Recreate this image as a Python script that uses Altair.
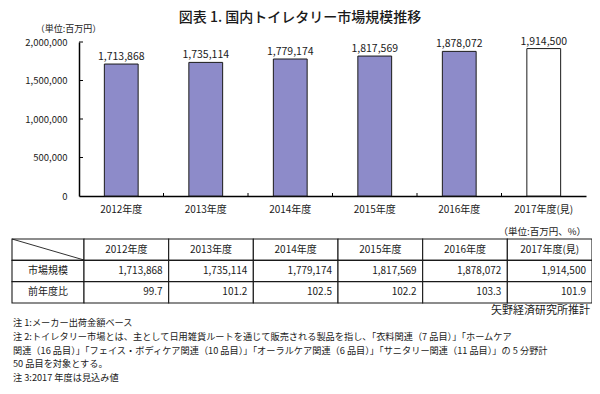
import altair as alt
import pandas as pd

FONT = "Noto Sans CJK JP"

# ---------------- data ----------------
years = ["2012年度", "2013年度", "2014年度", "2015年度", "2016年度", "2017年度(見)"]
market_size = [1713868, 1735114, 1779174, 1817569, 1878072, 1914500]
yoy_ratio = ["99.7", "101.2", "102.5", "102.2", "103.3", "101.9"]
row_labels = ["市場規模", "前年度比"]
y_tick_values = [0, 500000, 1000000, 1500000, 2000000]

title_text = "図表 1. 国内トイレタリー市場規模推移"
chart_unit = "（単位:百万円）"
table_unit = "（単位:百万円、%）"
source_text = "矢野経済研究所推計"
note_lines = [
    "注 1:メーカー出荷金額ベース",
    "注 2:トイレタリー市場とは、主として日用雑貨ルートを通じて販売される製品を指し、「衣料関連（7 品目）」「ホームケア",
    "関連（16 品目）」「フェイス・ボディケア関連（10 品目）」「オーラルケア関連（6 品目）」「サニタリー関連（11 品目）」の 5 分野計",
    "50 品目を対象とする。",
    "注 3:2017 年度は見込み値",
]

# ---------------- layout constants ----------------
W, H = 507, 154
BAR_FILL = "#8d8bc9"
INK = "#1a1a1a"

# ---------------- bar chart ----------------
bar_df = pd.DataFrame({
    "year": years,
    "value": market_size,
    "label": [f"{v:,}" for v in market_size],
})

xs = alt.Scale(type="band", domain=years, paddingInner=0.6, paddingOuter=0.3)
ys = alt.Scale(domain=[0, 2000000], nice=False, zero=True)

x_axis = alt.Axis(
    title=None, labelFont=FONT, labelFontSize=10, labelColor=INK, labelAngle=0,
    labelPadding=8, ticks=False, domainColor="#000", domainWidth=1.5, grid=False,
)
y_axis = alt.Axis(
    title=chart_unit, titleAngle=0, titleX=-11, titleY=-14, titleAlign="center",
    titleBaseline="middle", titleFont=FONT, titleFontSize=9, titleFontWeight="normal",
    titleColor=INK, values=y_tick_values, labelExpr="format(datum.value, ',')",
    ticks=False, labelPadding=12,
    labelFont=FONT, labelFontSize=9.5, labelColor=INK, domainColor="#000",
    domainWidth=1.5, grid=False,
)

bars = alt.Chart(bar_df).mark_bar(stroke=INK, strokeWidth=1).encode(
    x=alt.X("year:N", sort=years, scale=xs, axis=x_axis),
    y=alt.Y("value:Q", scale=ys, axis=y_axis),
    fill=alt.condition(alt.datum.year == years[-1], alt.value("white"), alt.value(BAR_FILL)),
)

bar_labels = alt.Chart(bar_df).mark_text(
    font=FONT, fontSize=10.5, baseline="bottom", dy=-2, color=INK
).encode(
    x=alt.X("year:N", sort=years, scale=xs, axis=x_axis),
    y=alt.Y("value:Q", scale=ys, axis=y_axis),
    text="label:N",
)

ytick_df = pd.DataFrame({"value": y_tick_values[1:]})
y_inner_ticks = alt.Chart(ytick_df).mark_rule(color="#000", strokeWidth=1).encode(
    y=alt.Y("value:Q", scale=ys, axis=y_axis),
    x=alt.value(0),
    x2=alt.value(4),
)

bar_group = alt.layer(bars, bar_labels, y_inner_ticks)

# category boundary ticks on the x axis
bt_df = pd.DataFrame({"year": years[1:]})
boundary_ticks = alt.Chart(bt_df).mark_rule(color="#000", strokeWidth=1).encode(
    x=alt.X("year:N", scale=alt.Scale(type="band", domain=years, paddingInner=0, paddingOuter=0),
            bandPosition=0, axis=None),
    y=alt.value(H),
    y2=alt.value(H - 3),
)

# ---------------- table ----------------
table_rows = ["header"] + row_labels
tx_data = alt.Scale(type="band", domain=years, range=[5, 513], paddingInner=0, paddingOuter=0)
tx_hdr = alt.Scale(type="band", domain=["label"], range=[-67, 5], paddingInner=0, paddingOuter=0)
ty = alt.Scale(type="band", domain=table_rows, range=[197, 261], paddingInner=0, paddingOuter=0)

cells_df = pd.DataFrame([{"col": c, "row": r} for r in table_rows for c in years])
grid_data = alt.Chart(cells_df).mark_rect(fill="white", stroke=INK, strokeWidth=1.1).encode(
    x=alt.X("col:N", scale=tx_data, axis=None),
    y=alt.Y("row:N", scale=ty, axis=None),
)

head_df = pd.DataFrame({"col": years, "row": ["header"] * len(years), "txt": years})
head_text = alt.Chart(head_df).mark_text(font=FONT, fontSize=10, color=INK).encode(
    x=alt.X("col:N", scale=tx_data, axis=None),
    y=alt.Y("row:N", scale=ty, axis=None),
    text="txt:N",
)

val_records = []
for c, v in zip(years, market_size):
    val_records.append({"col": c, "row": row_labels[0], "txt": f"{v:,}"})
for c, v in zip(years, yoy_ratio):
    val_records.append({"col": c, "row": row_labels[1], "txt": v})
val_df = pd.DataFrame(val_records)
val_text = alt.Chart(val_df).mark_text(font=FONT, fontSize=10, color=INK, align="right", dx=-6).encode(
    x=alt.X("col:N", scale=tx_data, bandPosition=1, axis=None),
    y=alt.Y("row:N", scale=ty, axis=None),
    text="txt:N",
)
table_data_group = alt.layer(grid_data, head_text, val_text)

hdr_cells_df = pd.DataFrame({"col": ["label"] * len(table_rows), "row": table_rows})
grid_hdr = alt.Chart(hdr_cells_df).mark_rect(fill="white", stroke=INK, strokeWidth=1.1).encode(
    x=alt.X("col:N", scale=tx_hdr, axis=None),
    y=alt.Y("row:N", scale=ty, axis=None),
)
rowlab_df = pd.DataFrame({"col": ["label"] * len(row_labels), "row": row_labels, "txt": row_labels})
rowlab_text = alt.Chart(rowlab_df).mark_text(font=FONT, fontSize=10, color=INK).encode(
    x=alt.X("col:N", scale=tx_hdr, axis=None),
    y=alt.Y("row:N", scale=ty, axis=None),
    text="txt:N",
)
table_hdr_group = alt.layer(grid_hdr, rowlab_text)

# diagonal line in the top-left header cell
diag_df = pd.DataFrame({"u": [0, 1], "v": [0, 1]})
diag = alt.Chart(diag_df).mark_line(color=INK, strokeWidth=0.9).encode(
    x=alt.X("u:Q", scale=alt.Scale(domain=[0, 1], range=[-67, 5], nice=False, zero=False), axis=None),
    y=alt.Y("v:Q", scale=alt.Scale(domain=[0, 1], range=[197, 218], nice=False, zero=False), axis=None),
)

# ---------------- annotations ----------------
one = pd.DataFrame({"a": [0]})
title_mark = alt.Chart(one).mark_text(
    text=title_text, font=FONT, fontSize=14, fontWeight=500, color=INK, align="center",
    baseline="middle"
).encode(x=alt.value(221), y=alt.value(-24))

table_unit_mark = alt.Chart(one).mark_text(
    text=table_unit, font=FONT, fontSize=9.5, color=INK, align="right", baseline="middle"
).encode(x=alt.value(507), y=alt.value(190))

source_mark = alt.Chart(one).mark_text(
    text=source_text, font=FONT, fontSize=11, color=INK, align="right", baseline="middle"
).encode(x=alt.value(511), y=alt.value(269))

notes_mark = alt.Chart(one).mark_text(
    text=note_lines, font=FONT, fontSize=9.2, color=INK, align="left", baseline="middle",
    lineHeight=13.8,
).encode(x=alt.value(-66), y=alt.value(281))

chart = alt.layer(
    bar_group, boundary_ticks, table_hdr_group, table_data_group, diag,
    title_mark, table_unit_mark, source_mark, notes_mark,
).resolve_scale(
    x="independent", y="independent"
).properties(
    width=W, height=H,
    padding={"left": 71, "top": 34, "right": 6, "bottom": 190},
    autosize=alt.AutoSizeParams(type="none"),
    background="white",
).configure_view(stroke=None)

chart.save("out.html", embed_options={"renderer": "svg", "actions": False})
